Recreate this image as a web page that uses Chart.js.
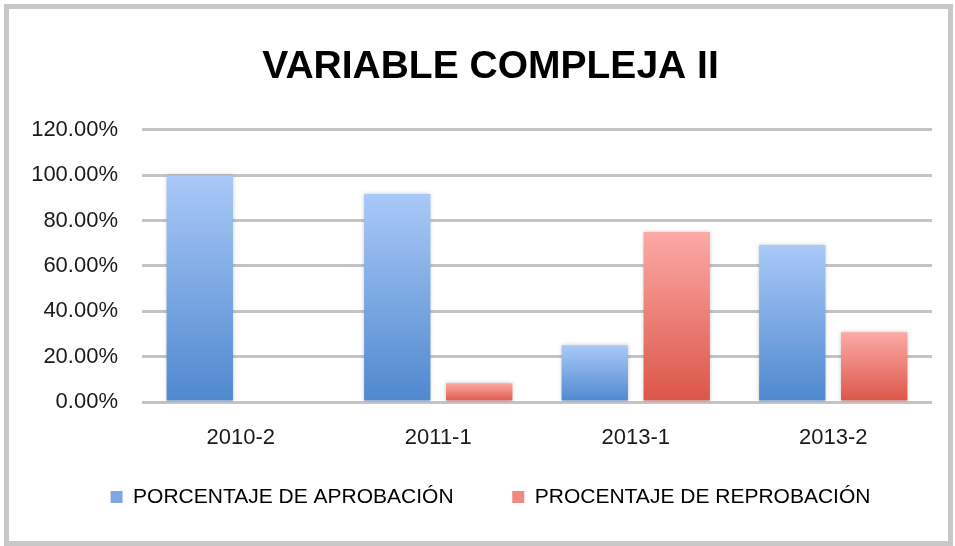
<!DOCTYPE html>
<html>
<head>
<meta charset="utf-8">
<script src="https://cdn.jsdelivr.net/npm/chart.js@4/dist/chart.umd.min.js"></script>
<style>
  html, body { margin: 0; padding: 0; background: #fff; }
  #wrap { position: relative; width: 955px; height: 546px; }
  #frame { position: absolute; left: 4px; top: 4px; width: 949px; height: 542px;
           border: 5px solid #c8c8c8; box-sizing: border-box; pointer-events: none; }
</style>
</head>
<body>
<div id="wrap">
  <canvas id="chart" width="955" height="546"></canvas>
  <div id="frame"></div>
</div>
<script>
const categories = ['2010-2', '2011-1', '2013-1', '2013-2'];
const aprobacion = [1.0, 0.9167, 0.25, 0.6923];
const reprobacion = [0, 0.0833, 0.75, 0.3077];
const yTicks = [0, 0.2, 0.4, 0.6, 0.8, 1.0, 1.2];

const font = "'Liberation Sans', Arial, sans-serif";

function barGradient(c, top, bottom) {
  const chart = c.chart;
  if (!chart.chartArea || c.type !== 'data') return bottom;
  const y = chart.scales.y;
  const yTop = y.getPixelForValue(c.parsed.y);
  const yBase = y.getPixelForValue(0);
  if (!isFinite(yTop) || yTop === yBase) return bottom;
  const g = chart.ctx.createLinearGradient(0, yTop, 0, yBase);
  g.addColorStop(0, top);
  g.addColorStop(1, bottom);
  return g;
}

// soft glow around the bars
const barShadow = {
  id: 'barShadow',
  beforeDatasetsDraw(chart) {
    const ctx = chart.ctx;
    ctx.save();
    ctx.shadowColor = 'rgba(0,0,0,0.22)';
    ctx.shadowBlur = 4;
  },
  afterDatasetsDraw(chart) {
    chart.ctx.restore();
  }
};

const ctx = document.getElementById('chart').getContext('2d');
const chart = new Chart(ctx, {
  type: 'bar',
  data: {
    labels: categories,
    datasets: [
      {
        label: 'PORCENTAJE DE APROBACIÓN        ',
        data: aprobacion,
        backgroundColor: c => barGradient(c, '#a9c9f7', '#4f88cf'),
        borderWidth: 0,
        categoryPercentage: 0.83,
        barPercentage: 0.81
      },
      {
        label: 'PROCENTAJE DE REPROBACIÓN',
        data: reprobacion,
        backgroundColor: c => barGradient(c, '#fbaaa6', '#dc5548'),
        borderWidth: 0,
        categoryPercentage: 0.83,
        barPercentage: 0.81
      }
    ]
  },
  options: {
    responsive: false,
    animation: false,
    layout: { padding: { left: 26, right: 0, top: 0, bottom: 28.5 } },
    plugins: {
      title: {
        display: true,
        text: 'VARIABLE COMPLEJA II',
        color: '#000',
        font: { family: font, size: 39, weight: 'bold', lineHeight: 1.2 },
        padding: { top: 44, bottom: 39 }
      },
      legend: {
        position: 'bottom',
        labels: {
          color: '#1a1a1a',
          font: { family: font, size: 21 },
          boxWidth: 12,
          boxHeight: 12,
          padding: 12,
          generateLabels: ch => ch.data.datasets.map((d, i) => ({
            text: d.label,
            fillStyle: i === 0 ? '#7ea7e2' : '#ef8a82',
            strokeStyle: 'rgba(0,0,0,0)',
            lineWidth: 0,
            datasetIndex: i
          }))
        }
      },
      tooltip: { enabled: false }
    },
    scales: {
      x: {
        grid: { display: false, drawTicks: false },
        border: { display: false },
        ticks: { color: '#1a1a1a', font: { family: font, size: 22 }, padding: 23 }
      },
      y: {
        min: 0,
        max: 1.2,
        afterBuildTicks: s => { s.ticks = yTicks.map(v => ({ value: v })); },
        afterFit: s => { s.width = 116; },
        grid: { color: '#c4c4c4', lineWidth: 3, drawTicks: false },
        border: { display: false },
        ticks: {
          color: '#1a1a1a',
          font: { family: font, size: 22 },
          padding: 24,
          callback: v => (v * 100).toFixed(2) + '%'
        }
      },
      // empty right-hand strip so the plot stops short of the frame
      yRight: {
        position: 'right',
        afterFit: s => { s.width = 23; },
        grid: { display: false, drawTicks: false },
        border: { display: false },
        ticks: { display: false }
      }
    }
  },
  plugins: [barShadow]
});
</script>
</body>
</html>
